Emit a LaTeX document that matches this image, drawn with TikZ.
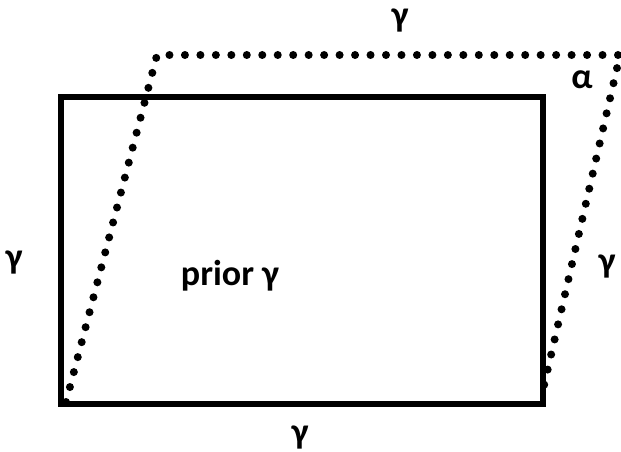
\documentclass[tikz,border=0pt]{standalone}
\usepackage{fontspec}
\setmainfont{Carlito}
\usetikzlibrary{positioning}
\tikzset{
  frame/.style={line width=4.9pt},
  slanted/.style={line width=6pt,line cap=round,dash pattern=on 0pt off 11.6pt},
  lbl/.style={font=\bfseries\fontsize{27}{32}\selectfont,inner sep=0pt}
}
\begin{document}
\begin{tikzpicture}[x=0.75pt,y=-0.75pt]
  \useasboundingbox (0,0) rectangle (621,452);
  % prior rectangle
  \coordinate (rbl) at (61,404);
  \coordinate (rtr) at (543,97);
  \draw[frame] (rbl) rectangle (rtr);
  % sheared shape
  \coordinate (pbl) at (66,402);
  \coordinate (ptl) at (157,55);
  \coordinate (ptr) at (620,55);
  \coordinate (pbr) at (543,390);
  \draw[slanted] (pbl) -- (ptl) -- (ptr) -- (pbr);
  % labels
  \node[lbl] (top) at (400,21) {γ};
  \node[lbl] (alpha) at (582,80) {α};
  \node[lbl] (left) at (14,263) {γ};
  \node[lbl] (right) at (607,267) {γ};
  \node[lbl] (prior) at (230,276) {prior γ};
  \node[lbl] (bottom) at (300,438) {γ};
\end{tikzpicture}
\end{document}
